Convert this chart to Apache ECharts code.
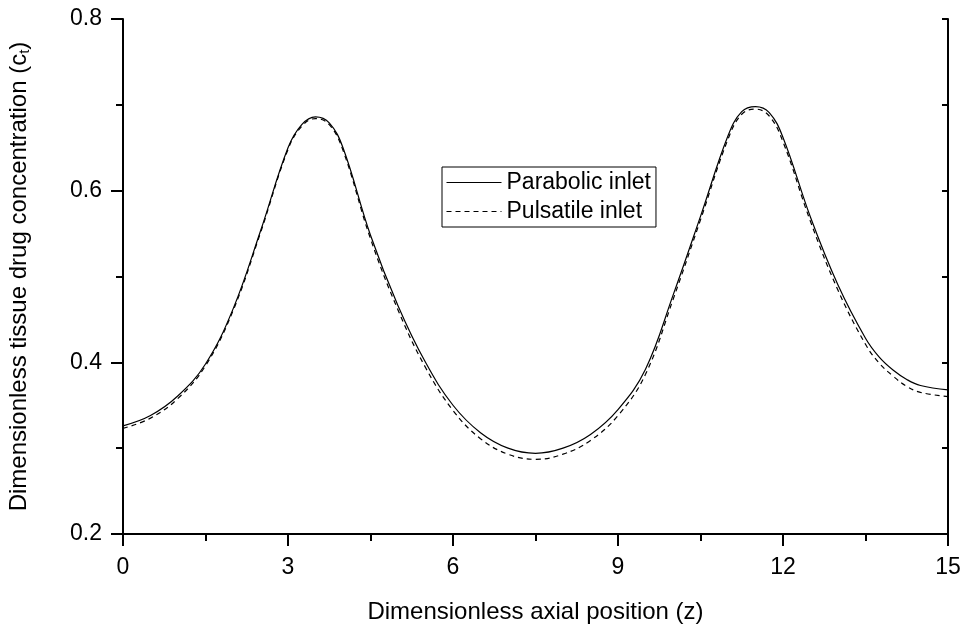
<!DOCTYPE html>
<html>
<head>
<meta charset="utf-8">
<script src="https://cdn.jsdelivr.net/npm/echarts@6/dist/echarts.min.js"></script>
<style>
html,body{margin:0;padding:0;background:#fff;}
#chart{width:963px;height:624px;}
</style>
</head>
<body>
<div id="chart"></div>
<script>
// Data
const zValues = [0, 0.5, 1.0, 1.5, 2.0, 2.5, 3.0, 3.25, 3.5, 3.75, 4.0, 4.5, 5.0, 5.5, 6.0, 6.5, 7.0, 7.5, 8.0, 8.5, 9.0, 9.5, 10.0, 10.5, 11.0, 11.25, 11.5, 11.75, 12.0, 12.5, 13.0, 13.5, 13.75, 14.0, 14.25, 14.5, 15.0];
const parabolic = [0.326, 0.338, 0.361, 0.398, 0.462, 0.553, 0.650, 0.677, 0.686, 0.679, 0.650, 0.548, 0.466, 0.400, 0.350, 0.318, 0.300, 0.294, 0.300, 0.316, 0.345, 0.392, 0.478, 0.570, 0.664, 0.692, 0.698, 0.691, 0.662, 0.569, 0.490, 0.428, 0.406, 0.391, 0.380, 0.373, 0.368];
const pulsatile = [0.323, 0.335, 0.358, 0.396, 0.460, 0.551, 0.648, 0.675, 0.684, 0.677, 0.647, 0.544, 0.461, 0.394, 0.344, 0.311, 0.293, 0.287, 0.293, 0.309, 0.338, 0.386, 0.473, 0.566, 0.660, 0.689, 0.695, 0.687, 0.657, 0.564, 0.484, 0.421, 0.399, 0.384, 0.372, 0.365, 0.360];
const seriesNames = ['Parabolic inlet', 'Pulsatile inlet'];
const xTicks = [0, 3, 6, 9, 12, 15];
const yTicks = [0.2, 0.4, 0.6, 0.8];
const xTitle = 'Dimensionless axial position (z)';
const yTitleMain = 'Dimensionless tissue drug concentration (c';
const yTitleSub = 't';

const FONT = "'Liberation Sans', Arial, sans-serif";
const FS = 23;
const FT = 24;
const chart = echarts.init(document.getElementById('chart'), null, {renderer: 'canvas'});

function pairs(xs, ys) { return xs.map((x, i) => [x, ys[i]]); }

const option = {
  backgroundColor: '#fff',
  animation: false,
  grid: {left: 123, right: 15, top: 19, bottom: 90, containLabel: false, outerBoundsMode: 'none'},
  legend: {
    orient: 'vertical',
    left: 442, top: 167,
    padding: [4, 5, 4, 4],
    itemWidth: 55, itemHeight: 22, itemGap: 6,
    borderColor: '#000', borderWidth: 1,
    itemStyle: {opacity: 0},
    lineStyle: {width: 1},
    textStyle: {fontFamily: FONT, fontSize: FS, color: '#000'},
    data: seriesNames.map(n => ({name: n}))
  },
  xAxis: {
    type: 'value', min: xTicks[0], max: xTicks[xTicks.length - 1], interval: 3,
    name: xTitle, nameLocation: 'middle', nameGap: 66,
    nameTextStyle: {fontFamily: FONT, fontSize: FT, color: '#000'},
    axisLine: {show: true, onZero: false, lineStyle: {color: '#000', width: 2}},
    axisTick: {show: true, inside: false, length: 12, lineStyle: {color: '#000', width: 2}},
    minorTick: {show: true, splitNumber: 2, length: 7, lineStyle: {color: '#000', width: 2}},
    axisLabel: {fontFamily: FONT, fontSize: FS, color: '#000', margin: 22},
    splitLine: {show: false}
  },
  yAxis: [{
    type: 'value', min: yTicks[0], max: yTicks[yTicks.length - 1], interval: 0.2, position: 'left',
    name: '{n|' + yTitleMain + '}{s|' + yTitleSub + '}{n|)}',
    nameLocation: 'middle', nameGap: 92,
    nameTextStyle: {
      fontFamily: FONT, fontSize: FT, color: '#000',
      rich: {
        n: {fontFamily: FONT, fontSize: FT, color: '#000', lineHeight: 24},
        s: {fontFamily: FONT, fontSize: 15, color: '#000', lineHeight: 15, padding: [12, 0, 0, 0]}
      }
    },
    axisLine: {show: true, onZero: false, lineStyle: {color: '#000', width: 2}},
    axisTick: {show: true, inside: false, length: 12, lineStyle: {color: '#000', width: 2}},
    minorTick: {show: true, splitNumber: 2, length: 7, lineStyle: {color: '#000', width: 2}},
    axisLabel: {fontFamily: FONT, fontSize: FS, color: '#000', margin: 21, formatter: v => v.toFixed(1)},
    splitLine: {show: false}
  }, {
    type: 'value', min: 0.2, max: 0.8, interval: 0.1, position: 'right',
    axisLine: {show: true, onZero: false, lineStyle: {color: '#000', width: 2}},
    axisTick: {show: true, inside: true, length: 6, lineStyle: {color: '#000', width: 2}},
    axisLabel: {show: false},
    splitLine: {show: false}
  }],
  series: [{
    name: seriesNames[0], type: 'line', data: pairs(zValues, parabolic),
    smooth: 0.4, symbol: 'none', yAxisIndex: 0,
    lineStyle: {color: '#000', width: 1.2, type: 'solid'},
    itemStyle: {color: '#000'}
  }, {
    name: seriesNames[1], type: 'line', data: pairs(zValues, pulsatile),
    smooth: 0.4, symbol: 'none', yAxisIndex: 0,
    lineStyle: {color: '#000', width: 1.2, type: [5, 4]},
    itemStyle: {color: '#000'}
  }]
};
chart.setOption(option);
</script>
</body>
</html>
